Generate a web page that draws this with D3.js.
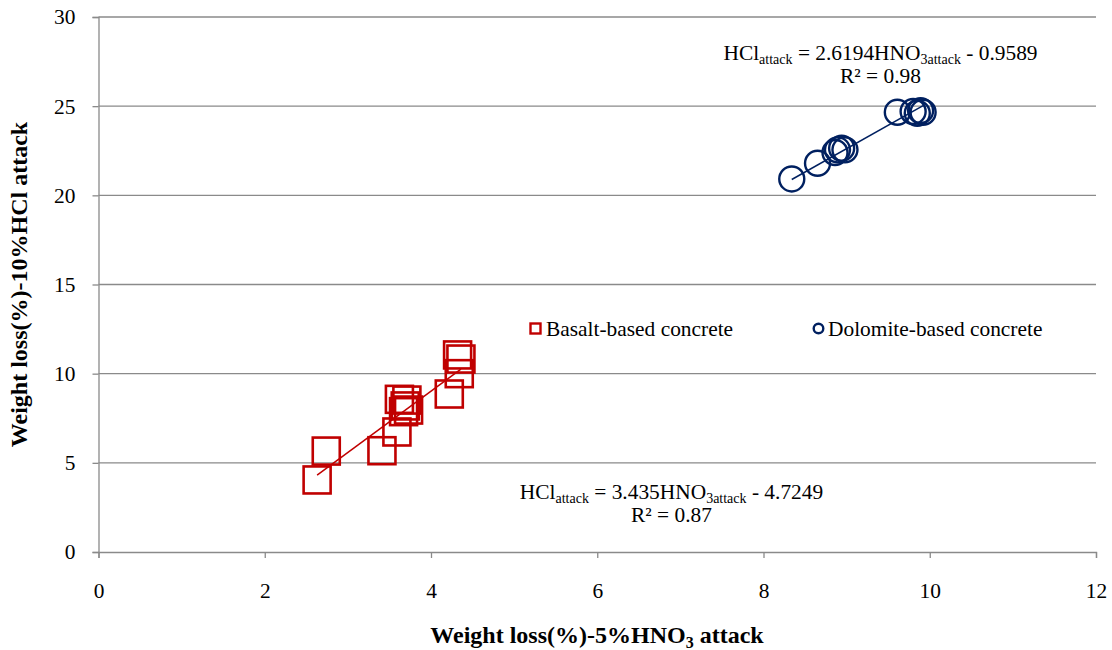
<!DOCTYPE html>
<html>
<head>
<meta charset="utf-8">
<script src="https://cdn.jsdelivr.net/npm/d3@7"></script>
</head>
<body style="margin:0;background:#fff">
<svg id="chart" width="1112" height="650"></svg>
<script>
// Weight loss after 5% HNO3 attack (x) vs. 10% HCl attack (y)
const basaltX = [2.63, 2.74, 3.41, 3.59, 3.62, 3.71, 3.67, 3.73, 3.69, 4.22, 4.34, 4.32, 4.36];
const basaltY = [4.04, 5.66, 5.68, 6.73, 8.56, 8.52, 7.87, 7.96, 8.19, 8.86, 10.0, 11.05, 10.82];
const dolomiteX = [8.34, 8.65, 8.89, 8.86, 8.94, 8.98, 9.61, 9.80, 9.89, 9.85, 9.92];
const dolomiteY = [20.92, 21.8, 22.55, 22.4, 22.64, 22.55, 24.66, 24.7, 24.75, 24.6, 24.66];

// Linear fits: [slope, intercept]
const basaltFit = [3.435, -4.7249];
const dolomiteFit = [2.6194, -0.9589];

const xTicks = [0, 2, 4, 6, 8, 10, 12];
const yTicks = [0, 5, 10, 15, 20, 25, 30];

const FONT = "'Liberation Serif', 'Times New Roman', serif";
const FS = 21.4;      // body text size
const FS_SUB = 14;    // subscript size
const FS_TITLE = 24;  // axis title size

const svg = d3.select("#chart").style("font-family", FONT);
const m = { left: 98.5, right: 16, top: 17, bottom: 98 };
const W = 1112, H = 650;
const x = d3.scaleLinear().domain([0, 12]).range([m.left, W - m.right]);
const y = d3.scaleLinear().domain([0, 30]).range([H - m.bottom, m.top]);

const gridColor = "#8a8a8a";
const red = "#c00000";
const navy = "#002060";

// horizontal gridlines
svg.append("g").selectAll("line").data(yTicks.filter(d => d > 0)).join("line")
  .attr("x1", x(0)).attr("x2", x(12))
  .attr("y1", d => y(d)).attr("y2", d => y(d))
  .attr("stroke", gridColor).attr("stroke-width", 1.3);

// axes
const xAxis = svg.append("g").attr("transform", `translate(0,${y(0)})`)
  .call(d3.axisBottom(x).tickValues(xTicks).tickSize(6).tickPadding(25).tickFormat(d3.format("d")));
const yAxis = svg.append("g").attr("transform", `translate(${x(0)},0)`)
  .call(d3.axisLeft(y).tickValues(yTicks).tickSize(6).tickPadding(17).tickFormat(d3.format("d")));
[xAxis, yAxis].forEach(g => {
  g.attr("font-family", null).attr("font-size", null);
  g.select(".domain").attr("stroke", gridColor).attr("stroke-width", 1.3);
  g.selectAll(".tick line").attr("stroke", gridColor).attr("stroke-width", 1.3);
  g.selectAll(".tick text").style("font-size", FS + "px").style("font-family", FONT).attr("fill", "#000");
});

// trend lines
function trend(xs, fit, color) {
  const x0 = d3.min(xs), x1 = d3.max(xs);
  svg.append("line")
    .attr("x1", x(x0)).attr("y1", y(fit[0] * x0 + fit[1]))
    .attr("x2", x(x1)).attr("y2", y(fit[0] * x1 + fit[1]))
    .attr("stroke", color).attr("stroke-width", 1.5);
}

// basalt: open squares
const sq = 27;
svg.append("g").selectAll("rect").data(d3.zip(basaltX, basaltY)).join("rect")
  .attr("x", d => x(d[0]) - sq / 2).attr("y", d => y(d[1]) - sq / 2)
  .attr("width", sq).attr("height", sq)
  .attr("fill", "none").attr("stroke", red).attr("stroke-width", 2.6);
trend(basaltX, basaltFit, red);

// dolomite: open circles
svg.append("g").selectAll("circle").data(d3.zip(dolomiteX, dolomiteY)).join("circle")
  .attr("cx", d => x(d[0])).attr("cy", d => y(d[1])).attr("r", 12.5)
  .attr("fill", "none").attr("stroke", navy).attr("stroke-width", 2.4);
trend(dolomiteX, dolomiteFit, navy);

function label(px, py, size) {
  return svg.append("text").attr("x", px).attr("y", py)
    .style("font-family", FONT).style("font-size", size + "px").attr("fill", "#000");
}

// regression equations
function equation(cx, cy, slope, intercept, r2) {
  const t = label(cx, cy, FS).attr("text-anchor", "middle");
  t.append("tspan").text("HCl");
  t.append("tspan").text("attack").style("font-size", FS_SUB + "px").attr("dy", 4);
  t.append("tspan").text(` = ${slope}HNO`).attr("dy", -4);
  t.append("tspan").text("3attack").style("font-size", FS_SUB + "px").attr("dy", 4);
  t.append("tspan").text(` - ${Math.abs(intercept)}`).attr("dy", -4);
  label(cx, cy + 23, FS).attr("text-anchor", "middle").text(`R² = ${r2}`);
}
equation(880.5, 60, dolomiteFit[0], dolomiteFit[1], "0.98");
equation(671.5, 499, basaltFit[0], basaltFit[1], "0.87");

// legend
svg.append("rect").attr("x", 530.5).attr("y", 323.5).attr("width", 10).attr("height", 10)
  .attr("fill", "none").attr("stroke", red).attr("stroke-width", 2.4);
label(546, 336, FS).text("Basalt-based concrete");
svg.append("circle").attr("cx", 818.5).attr("cy", 328.5).attr("r", 4.8)
  .attr("fill", "none").attr("stroke", navy).attr("stroke-width", 2.4);
label(828, 336, FS).text("Dolomite-based concrete");

// axis titles
const xt = label(597, 643, FS_TITLE).attr("text-anchor", "middle").style("font-weight", "bold");
xt.append("tspan").text("Weight loss(%)-5%HNO");
xt.append("tspan").text("3").style("font-size", "16px").attr("dy", 5);
xt.append("tspan").text(" attack").attr("dy", -5);

svg.append("text").attr("transform", `translate(27,${(y(0) + y(30)) / 2}) rotate(-90)`)
  .attr("text-anchor", "middle").style("font-family", FONT).style("font-size", FS_TITLE + "px")
  .style("font-weight", "bold").text("Weight loss(%)-10%HCl attack");
</script>
</body>
</html>
